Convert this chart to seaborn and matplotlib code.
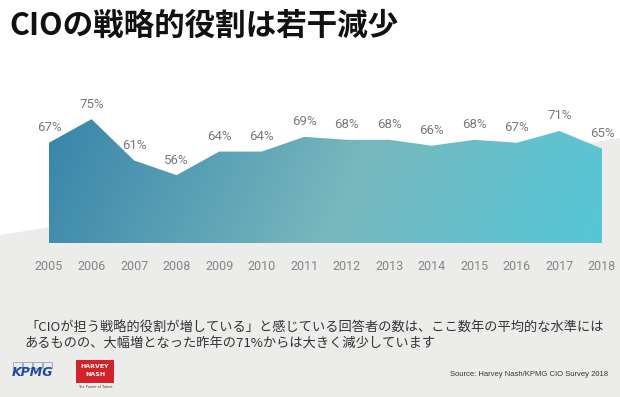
import numpy as np
import pandas as pd
import matplotlib
matplotlib.use("Agg")
import matplotlib.pyplot as plt
from matplotlib.colors import LinearSegmentedColormap
from matplotlib.patches import Polygon, Rectangle
import seaborn as sns

# Datos del gráfico
years = [2005, 2006, 2007, 2008, 2009, 2010, 2011, 2012, 2013, 2014, 2015, 2016, 2017, 2018]
pct = [67, 75, 61, 56, 64, 64, 69, 68, 68, 66, 68, 67, 71, 65]
pct_labels = [f"{v}%" for v in pct]

title = "CIOの戦略的役割は若干減少"
note_1 = "「CIOが担う戦略的役割が増している」と感じている回答者の数は、ここ数年の平均的な水準には"
note_2 = "あるものの、大幅増となった昨年の71%からは大きく減少しています"
source = "Source: Harvey Nash/KPMG CIO Survey 2018"

df = pd.DataFrame({"year": years, "pct": pct})

sns.set_theme(style="white")
plt.rcParams['font.family'] = ['Noto Sans CJK JP', 'DejaVu Sans']

W, H = 620, 397
fig = plt.figure(figsize=(W / 100, H / 100), dpi=100)
fig.patch.set_facecolor("white")

# fondo gris inclinado (detrás de los ejes)
bg = Polygon([(0, (H - 235) / H), (1, (H - 138) / H), (1, 0), (0, 0)],
             closed=True, transform=fig.transFigure, facecolor="#ecedeb",
             edgecolor="none", zorder=-10)
fig.patches.append(bg)

ymin, ymax = 33, 80
ax = fig.add_axes([49 / W, (H - 243) / H, (602 - 49) / W, 138.6 / H])
ax.set_facecolor("none")
ax.set_zorder(1)

sns.lineplot(data=df, x="year", y="pct", ax=ax, linewidth=0, color="#5aaabb")
area = ax.fill_between(df["year"], df["pct"], ymin, color="none", linewidth=0)

# degradado diagonal recortado al área
cmap = LinearSegmentedColormap.from_list(
    "grad", [(0, "#3784aa"), (0.55, "#78b8be"), (1, "#55c7d8")])
nx, ny = 400, 120
u = np.linspace(0, 1, nx)[None, :]
v = np.linspace(1, 0, ny)[:, None]
grad = u * 553 + (1 - v) * 0.45 * 139
grad = grad / grad.max()
img = ax.imshow(grad, cmap=cmap, extent=[years[0], years[-1], ymin, ymax],
                aspect="auto", origin="upper", zorder=1)
img.set_clip_path(area.get_paths()[0], transform=ax.transData)

ax.set_xlim(years[0], years[-1])
ax.set_ylim(ymin, ymax)
ax.set_xlabel("")
ax.set_ylabel("")

narrow = ['Roboto', 'DejaVu Sans']
for x, y, lab in zip(years, pct, pct_labels):
    ax.annotate(lab, (x, y), xytext=(0, 15), textcoords="offset pixels",
                ha="center", va="center", fontsize=9.5, color="#7a7a7a",
                family=narrow, zorder=3)

ax.set_xticks(years)
ax.set_xticklabels([str(y) for y in years], family=narrow, fontsize=9,
                   color="#858585")
ax.tick_params(axis="x", length=0, pad=12)
ax.set_yticks([])
sns.despine(ax=ax, left=True, bottom=True)

# textos
fig.text(9 / W, 1 - 26 / H, title, fontsize=22, fontweight="bold",
         color="#111111", va="center", ha="left")
fig.text(25 / W, 1 - 327 / H, note_1, fontsize=9.5, color="#333333",
         va="center", ha="left")
fig.text(25 / W, 1 - 343 / H, note_2, fontsize=9.5, color="#333333",
         va="center", ha="left")
fig.text(608 / W, 1 - 375 / H, source, fontsize=5.5, color="#333333",
         va="center", ha="right", family=['Liberation Sans', 'DejaVu Sans'])

# logotipos
for i in range(4):
    fig.patches.append(Rectangle(((13 + i * 10) / W, 1 - 368 / H), 9 / W, 6 / H,
                                 transform=fig.transFigure, facecolor="none",
                                 edgecolor="#9aa3b5", linewidth=0.6))
fig.text(12 / W, 1 - 373 / H, "KPMG", fontsize=9, fontweight="bold",
         style="italic", color="#1e49a0", va="center", ha="left",
         family=['DejaVu Sans'])
fig.patches.append(Rectangle((76 / W, 1 - 383 / H), 38 / W, 23 / H,
                             transform=fig.transFigure, facecolor="#d2232a",
                             edgecolor="none"))
fig.text(95 / W, 1 - 366 / H, "HARVEY", fontsize=4.5, fontweight="bold",
         color="white", va="center", ha="center", family=['DejaVu Sans'])
fig.text(95 / W, 1 - 374 / H, "NASH", fontsize=4.5, fontweight="bold",
         color="white", va="center", ha="center", family=['DejaVu Sans'])
fig.text(95 / W, 1 - 387 / H, "The Power of Talent", fontsize=2.5,
         color="#444444", va="center", ha="center", family=['DejaVu Sans'])

fig.savefig("out.png", dpi=100)
